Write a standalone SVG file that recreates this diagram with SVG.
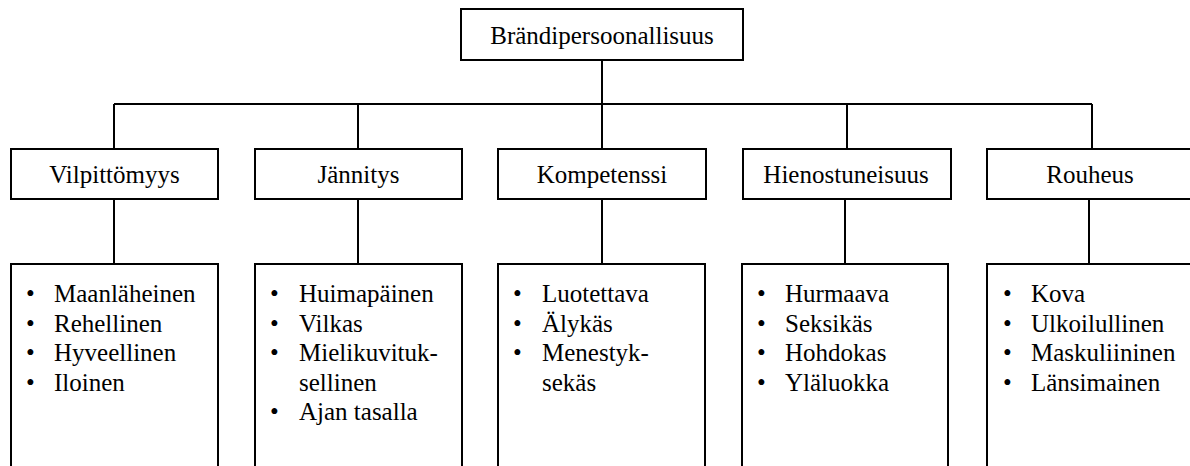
<svg xmlns="http://www.w3.org/2000/svg" width="1190" height="466" viewBox="0 0 1190 466">
<rect width="1190" height="466" fill="#fff"/>
<g id="connectors" fill="none" stroke="#000" stroke-width="2">
<path d="M602 60V104M114 104H1092M114 104V149M358 104V149M602 104V149M847 104V149M1092 104V149"/>
<path d="M114 199V264M358 199V264M602 199V264M845 199V264M1089 199V264"/>
</g>
<g id="root">
<rect fill="#fff" stroke="#000" stroke-width="2" x="461" y="9" width="282" height="51"/>
<text font-family="Times New Roman" font-size="25" text-anchor="middle" x="602" y="44">Brändipersoonallisuus</text>
</g>
<g id="vilpittomyys">
<rect fill="#fff" stroke="#000" stroke-width="2" x="11" y="149" width="207" height="50"/>
<text font-family="Times New Roman" font-size="25" text-anchor="middle" x="114.5" y="183">Vilpittömyys</text>
</g>
<g id="jannitys">
<rect fill="#fff" stroke="#000" stroke-width="2" x="255" y="149" width="207" height="50"/>
<text font-family="Times New Roman" font-size="25" text-anchor="middle" x="358.5" y="183">Jännitys</text>
</g>
<g id="kompetenssi">
<rect fill="#fff" stroke="#000" stroke-width="2" x="498" y="149" width="208" height="50"/>
<text font-family="Times New Roman" font-size="25" text-anchor="middle" x="602" y="183">Kompetenssi</text>
</g>
<g id="hienostuneisuus">
<rect fill="#fff" stroke="#000" stroke-width="2" x="743" y="149" width="208" height="50"/>
<text font-family="Times New Roman" font-size="25" text-anchor="middle" x="846" y="183">Hienostuneisuus</text>
</g>
<g id="rouheus">
<rect fill="#fff" stroke="#000" stroke-width="2" x="987" y="149" width="210" height="50"/>
<text font-family="Times New Roman" font-size="25" text-anchor="middle" x="1090" y="183">Rouheus</text>
</g>
<g id="vilpittomyys-list" font-family="Times New Roman" font-size="25">
<rect fill="#fff" stroke="#000" stroke-width="2" x="11" y="264" width="207" height="210"/>
<text x="26" y="302">•</text><text x="54" y="302">Maanläheinen</text>
<text x="26" y="331.5">•</text><text x="54" y="331.5">Rehellinen</text>
<text x="26" y="361">•</text><text x="54" y="361">Hyveellinen</text>
<text x="26" y="390.5">•</text><text x="54" y="390.5">Iloinen</text>
</g>
<g id="jannitys-list" font-family="Times New Roman" font-size="25">
<rect fill="#fff" stroke="#000" stroke-width="2" x="255" y="264" width="207" height="210"/>
<text x="270" y="302">•</text><text x="299" y="302">Huimapäinen</text>
<text x="270" y="331.5">•</text><text x="299" y="331.5">Vilkas</text>
<text x="270" y="361">•</text><text x="299" y="361">Mielikuvituk-</text>
<text x="299" y="390.5">sellinen</text>
<text x="270" y="420">•</text><text x="299" y="420">Ajan tasalla</text>
</g>
<g id="kompetenssi-list" font-family="Times New Roman" font-size="25">
<rect fill="#fff" stroke="#000" stroke-width="2" x="498" y="264" width="207" height="210"/>
<text x="513" y="302">•</text><text x="542" y="302">Luotettava</text>
<text x="513" y="331.5">•</text><text x="542" y="331.5">Älykäs</text>
<text x="513" y="361">•</text><text x="542" y="361">Menestyk-</text>
<text x="542" y="390.5">sekäs</text>
</g>
<g id="hienostuneisuus-list" font-family="Times New Roman" font-size="25">
<rect fill="#fff" stroke="#000" stroke-width="2" x="742" y="264" width="206" height="210"/>
<text x="757" y="302">•</text><text x="785" y="302">Hurmaava</text>
<text x="757" y="331.5">•</text><text x="785" y="331.5">Seksikäs</text>
<text x="757" y="361">•</text><text x="785" y="361">Hohdokas</text>
<text x="757" y="390.5">•</text><text x="785" y="390.5">Yläluokka</text>
</g>
<g id="rouheus-list" font-family="Times New Roman" font-size="25">
<rect fill="#fff" stroke="#000" stroke-width="2" x="987" y="264" width="210" height="210"/>
<text x="1003" y="302">•</text><text x="1031" y="302">Kova</text>
<text x="1003" y="331.5">•</text><text x="1031" y="331.5">Ulkoilullinen</text>
<text x="1003" y="361">•</text><text x="1031" y="361">Maskuliininen</text>
<text x="1003" y="390.5">•</text><text x="1031" y="390.5">Länsimainen</text>
</g>
</svg>
